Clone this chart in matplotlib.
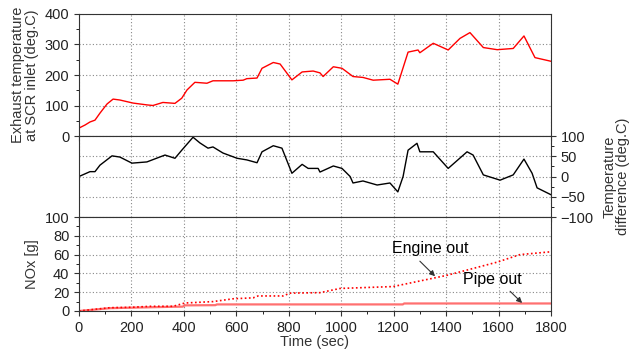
import matplotlib.pyplot as plt
from matplotlib.ticker import MultipleLocator

plt.rcParams['font.family'] = ['Liberation Sans', 'DejaVu Sans']
plt.rcParams['font.size'] = 10

# exhaust temperature at SCR inlet (deg.C)
t_temp = [0, 23, 42, 61, 80, 107, 130, 156, 206, 259, 282, 320, 366, 392, 412, 442,
          488, 511, 588, 626, 640, 679, 698, 741, 767, 793, 812, 851, 893, 919, 931,
          970, 1003, 1045, 1083, 1122, 1186, 1216, 1255, 1293, 1300, 1351, 1408, 1453,
          1491, 1542, 1595, 1656, 1697, 1739, 1800]
temp = [26, 36, 46, 52, 75, 105, 121, 118, 108, 102, 100, 110, 107, 124, 151, 176,
        173, 181, 181, 183, 188, 190, 222, 241, 236, 206, 184, 210, 213, 207, 195,
        227, 222, 195, 192, 183, 186, 170, 275, 282, 273, 304, 282, 320,
        339, 290, 283, 287, 328, 257, 245]

# temperature difference (deg.C)
t_diff = [0, 42, 61, 80, 126, 156, 202, 259, 328, 366, 392, 435, 461, 492, 511, 549,
          603, 640, 679, 698, 741, 774, 812, 851, 874, 912, 919, 970, 1003, 1034, 1045,
          1083, 1137, 1186, 1216, 1236, 1255, 1289, 1300, 1351, 1408, 1480, 1503, 1542,
          1606, 1656, 1697, 1728, 1747, 1800]
diff = [0, 12, 12, 28, 51, 48, 33, 36, 53, 45, 65, 97, 83, 70, 73, 58,
        45, 41, 34, 61, 76, 70, 8, 30, 20, 20, 11, 26, 20, 0, -16,
        -11, -21, -16, -38, 0, 65, 82, 61, 61, 20, 61, 53, 4,
        -9, 4, 43, 8, -28, -45]

# cumulative NOx [g]
t_eng = [0, 118, 206, 271, 359, 404, 511, 588, 664, 683, 778, 805, 919, 996, 1198,
         1404, 1595, 1682, 1800]
nox_eng = [0, 3.5, 4, 5, 5, 8.5, 10, 13, 14, 16, 16, 19, 19.5, 24, 26, 38, 52, 60, 63]
t_pipe = [0, 118, 195, 359, 395, 404, 520, 526, 1235, 1240, 1800]
nox_pipe = [0, 3, 3.5, 4.5, 4.6, 6, 6.2, 7, 7, 8, 8]

fig = plt.figure(figsize=(6.38, 3.49), dpi=100)
L, W = 0.1238, 0.7398
ax1 = fig.add_axes([L, 0.6103, W, 0.3496])
ax2 = fig.add_axes([L, 0.3782, W, 0.2321])
ax3 = fig.add_axes([L, 0.1089, W, 0.2693])

grid_kw = dict(color='#888888', linestyle=(0, (1, 2)), linewidth=0.8)
for ax in (ax1, ax2, ax3):
    ax.set_xlim(0, 1800)
    ax.xaxis.set_major_locator(MultipleLocator(200))
    ax.xaxis.set_minor_locator(MultipleLocator(100))
    ax.grid(True, which='major', **grid_kw)
    for s in ax.spines.values():
        s.set_color('#333333')
    ax.tick_params(colors='#333333', labelcolor='#222222', labelsize=10.5)

ax1.plot(t_temp, temp, color='red', lw=1)
ax1.set_ylim(0, 400)
ax1.yaxis.set_major_locator(MultipleLocator(100))
ax1.yaxis.set_minor_locator(MultipleLocator(50))
ax1.tick_params(labelbottom=False)
ax1.set_ylabel('Exhaust temperature\nat SCR inlet (deg.C)', fontsize=10.5,
               color='#333333', linespacing=1.0)

ax2.plot(t_diff, diff, color='black', lw=1)
ax2.set_ylim(-100, 100)
ax2.yaxis.set_major_locator(MultipleLocator(50))
ax2.yaxis.set_minor_locator(MultipleLocator(25))
ax2.yaxis.tick_right()
ax2.yaxis.set_label_position('right')
ax2.tick_params(labelbottom=False)
ax2.set_ylabel('Temperature\ndifference (deg.C)', fontsize=10.5, color='#333333',
               linespacing=1.0, labelpad=6)

ax3.plot(t_pipe, nox_pipe, color='#ff7070', lw=1.6)
ax3.plot(t_eng, nox_eng, color='red', lw=1.2, linestyle=(0, (1, 1.5)))
ax3.set_ylim(0, 100)
ax3.yaxis.set_major_locator(MultipleLocator(20))
ax3.yaxis.set_minor_locator(MultipleLocator(10))
ax3.set_ylabel('NOx [g]', fontsize=10.5, color='#333333')
ax3.set_xlabel('Time (sec)', fontsize=10.5, color='#333333', labelpad=0)

arrow_kw = dict(arrowstyle='-|>', color='#333333', lw=0.8,
                shrinkA=0, shrinkB=0, mutation_scale=8)
ax3.text(1194, 67, 'Engine out', fontsize=11.5, va='center', ha='left')
ax3.annotate('', xy=(1358, 37), xytext=(1300, 53), arrowprops=arrow_kw)
ax3.text(1465, 33, 'Pipe out', fontsize=11.5, va='center', ha='left')
ax3.annotate('', xy=(1690, 8.5), xytext=(1644, 21), arrowprops=arrow_kw)

fig.savefig('out.png', dpi=100)
